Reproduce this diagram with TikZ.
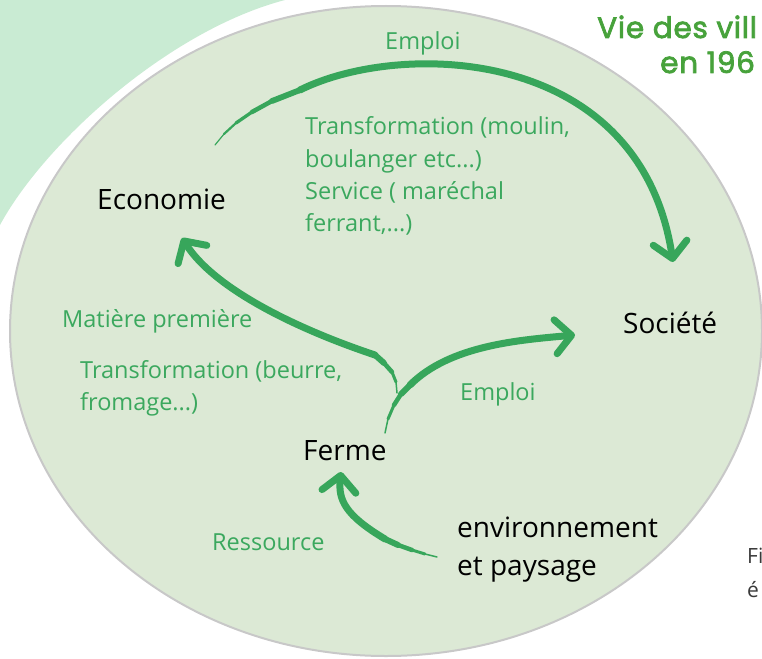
\documentclass[tikz,border=0pt]{standalone}
\usepackage{fontspec}
\setmainfont{Open Sans}
\newfontfamily\titlefont{Poppins}[FakeBold=2.5,LetterSpace=2.5]
\usetikzlibrary{arrows.meta}
\definecolor{mint}{HTML}{C9EBD3}
\definecolor{ellfill}{HTML}{DCE9D5}
\definecolor{ellline}{HTML}{C8C8C8}
\definecolor{brushgreen}{HTML}{37A65B}
\definecolor{labgreen}{HTML}{3BA85E}
\definecolor{titlegreen}{HTML}{47A23B}
\definecolor{captgrey}{HTML}{3A3A3A}
\begin{document}
\begin{tikzpicture}[x=1pt,y=-1pt,
  brush/.style={draw=brushgreen,line cap=round,line join=round},
  mainstroke/.style={brush,line width=7pt},
  head/.style={-{Straight Barb[length=16pt,width=34pt,round]}},
  lab/.style={anchor=base west,inner sep=0pt,text=labgreen,font=\fontsize{23.5}{28}\selectfont},
  big/.style={anchor=base west,inner sep=0pt,text=black,font=\fontsize{28}{34}\selectfont},
  ttl/.style={anchor=base west,inner sep=0pt,text=titlegreen,font=\titlefont\fontsize{29.5}{34}\selectfont},
  capt/.style={anchor=base west,inner sep=0pt,text=captgrey,font=\fontsize{21}{26}\selectfont}]
\useasboundingbox (0,0) rectangle (762,658);
\clip (0,0) rectangle (762,658);
% backgrounds
\fill[mint] (-5,235) -- (0,225) .. controls (45,142) and (170,30) .. (285,0) -- (295,-5) -- (-5,-5) -- cycle;
\filldraw[fill=ellfill,draw=ellline,line width=2pt] (386,331) ellipse [x radius=376pt,y radius=325pt];
% title and caption
\node[ttl] (t1) at (597,38) {Vie des vill};
\node[ttl] (t2) at (660,73) {en 196};
\node[capt] (c1) at (747,563) {Fi};
\node[capt] (c2) at (747,597) {é};
% main labels
\node[big] (eco) at (97,209) {Economie};
\node[big] (soc) at (623,333) {Société};
\node[big] (ferme) at (303,460) {Ferme};
\node[big] (env) at (457,537) {environnement};
\node[big] (env2) at (457,575) {et paysage};
% green labels
\node[lab] (lemp1) at (385,50) {Emploi};
\node[lab] (ltr1) at (305,135) {Transformation (moulin,};
\node[lab] (ltr2) at (305,167) {boulanger etc...)};
\node[lab] (ltr3) at (305,199) {Service ( maréchal};
\node[lab] (ltr4) at (305,231) {ferrant,...)};
\node[lab] (lmat) at (62,327) {Matière première};
\node[lab] (ltb1) at (80,378) {Transformation (beurre,};
\node[lab] (ltb2) at (80,410) {fromage...)};
\node[lab] (lemp2) at (460,400) {Emploi};
\node[lab] (lres) at (212,550) {Ressource};
% connector end points
\coordinate (a1s) at (215,145);
\coordinate (a1m) at (300,90);
\coordinate (a1e) at (673,262);
\coordinate (a2s) at (397,393);
\coordinate (a2m) at (375,355);
\coordinate (a2e) at (182,238);
\coordinate (a3s) at (385,433);
\coordinate (a3m) at (410,385);
\coordinate (a3e) at (575,335);
\coordinate (a4s) at (437,557);
\coordinate (a4m) at (385,539);
\coordinate (a4e) at (341,472);
% tapered tails
\foreach \p/\q/\w in {{(215,145)}/{(224,134)}/1.2,{(224,134)}/{(236,123)}/2.2,{(236,123)}/{(252,112)}/3.3,{(252,112)}/{(272,101)}/4.5,{(272,101)}/{(300,90)}/5.8,
  {(397,393)}/{(396,382)}/1.5,{(396,382)}/{(392,372)}/3,{(392,372)}/{(384,363)}/4.5,{(384,363)}/{(375,355)}/6,
  {(385,433)}/{(388,419)}/1.5,{(388,419)}/{(394,405)}/3,{(394,405)}/{(401,394)}/4.5,{(401,394)}/{(410,385)}/6,
  {(437,557)}/{(425,554)}/1.5,{(425,554)}/{(412,550)}/3,{(412,550)}/{(398,545)}/4.5,{(398,545)}/{(385,539)}/6}
  \draw[brush,line width=\w pt] \p -- \q;
% connectors
\draw[mainstroke,head] (a1m) .. controls (400,40) and (640,45) .. (a1e);
\draw[mainstroke,head] (a2m) .. controls (300,330) and (215,290) .. (a2e);
\draw[mainstroke,head] (a3m) .. controls (450,345) and (520,340) .. (a3e);
\draw[mainstroke,head] (a4m) .. controls (345,515) and (338,500) .. (a4e);
\end{tikzpicture}
\end{document}
